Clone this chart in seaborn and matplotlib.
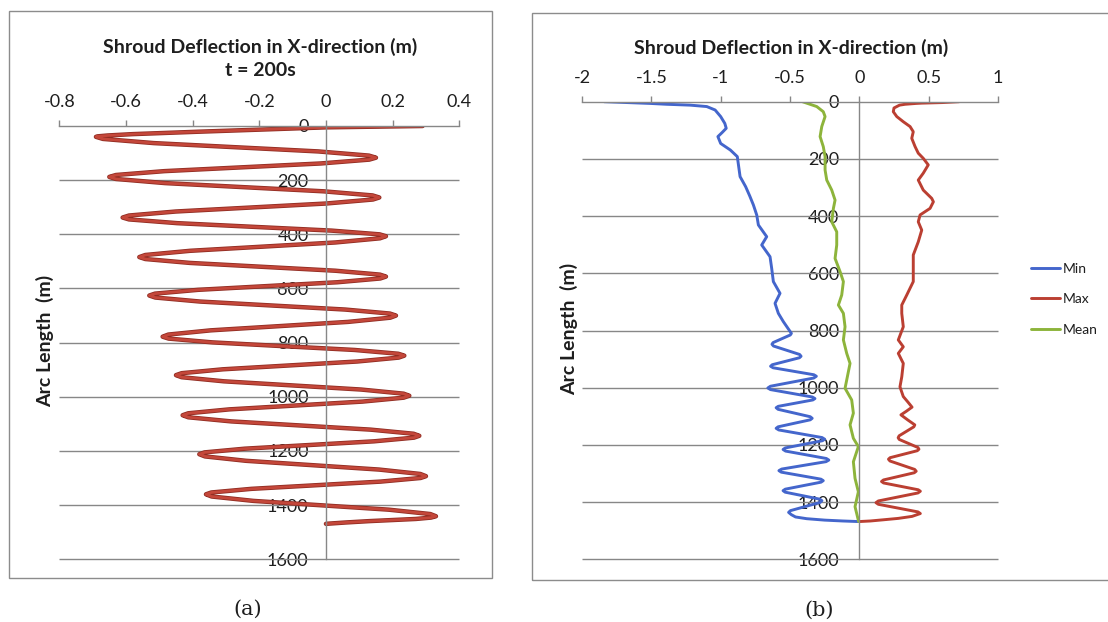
import matplotlib
matplotlib.use("Agg")
import matplotlib.pyplot as plt
import matplotlib.patheffects as pe
from matplotlib.patches import Rectangle
import seaborn as sns

sns.set_theme(style="white")
plt.rcParams["font.family"] = ["Lato", "DejaVu Sans"]
plt.rcParams["axes.unicode_minus"] = False

# ---------------- data ----------------
# (a) instantaneous shroud deflection at t = 200 s
arc_a = [0, 5, 21, 30, 35, 38, 40,
         47.7, 63.1, 78.5, 93.9, 109.3, 117,
         124.1, 138.3, 152.5, 166.7, 180.9, 188,
         195.6, 210.8, 226, 241.2, 256.4, 264,
         271.4, 286.2, 301, 315.8, 330.6, 338,
         344.9, 358.7, 372.5, 386.3, 400.1, 407,
         414.7, 430.1, 445.5, 460.9, 476.3, 484,
         491.2, 505.6, 520, 534.4, 548.8, 556,
         563, 577, 591, 605, 619, 626,
         633.4, 648.2, 663, 677.8, 692.6, 700,
         707.8, 723.4, 739, 754.6, 770.2, 778,
         785, 799, 813, 827, 841, 848,
         855.2, 869.6, 884, 898.4, 912.8, 920,
         927.6, 942.8, 958, 973.2, 988.4, 996,
         1003.2, 1017.6, 1032, 1046.4, 1060.8, 1068,
         1075.6, 1090.8, 1106, 1121.2, 1136.4, 1144,
         1150.8, 1164.4, 1178, 1191.6, 1205.2, 1212,
         1220.1, 1236.3, 1252.5, 1268.7, 1284.9, 1293,
         1299.7, 1313.1, 1326.5, 1339.9, 1353.3, 1360,
         1368.1, 1384.3, 1400.5, 1416.7, 1432.9, 1441,
         1446, 1451, 1455, 1459, 1464, 1469]
defl_a = [0.29, 0.0, -0.38, -0.58, -0.655, -0.683, -0.69,
          -0.669, -0.517, -0.27, -0.023, 0.129, 0.15,
          0.130, -0.015, -0.25, -0.485, -0.630, -0.65,
          -0.630, -0.483, -0.245, -0.007, 0.140, 0.16,
          0.141, 0.001, -0.225, -0.451, -0.591, -0.61,
          -0.591, -0.447, -0.215, 0.017, 0.161, 0.18,
          0.162, 0.028, -0.19, -0.408, -0.542, -0.56,
          -0.542, -0.408, -0.19, 0.028, 0.162, 0.18,
          0.163, 0.034, -0.175, -0.384, -0.513, -0.53,
          -0.512, -0.378, -0.16, 0.058, 0.192, 0.21,
          0.193, 0.066, -0.14, -0.346, -0.473, -0.49,
          -0.472, -0.341, -0.128, 0.086, 0.217, 0.235,
          0.218, 0.094, -0.108, -0.309, -0.433, -0.45,
          -0.433, -0.306, -0.10, 0.106, 0.233, 0.25,
          0.233, 0.110, -0.09, -0.290, -0.413, -0.43,
          -0.413, -0.284, -0.075, 0.134, 0.263, 0.28,
          0.264, 0.144, -0.05, -0.244, -0.364, -0.38,
          -0.363, -0.240, -0.04, 0.160, 0.283, 0.30,
          0.284, 0.164, -0.03, -0.224, -0.344, -0.36,
          -0.343, -0.218, -0.015, 0.188, 0.313, 0.33,
          0.315, 0.27, 0.20, 0.13, 0.06, 0.0]

# (b) envelope of the deflection over the run
arc_min = [0, 6, 9, 12, 17, 29, 52, 76, 93, 108,
           122, 146, 169, 192, 227, 262, 297, 330, 361, 396,
           431, 472, 501, 542, 583, 629, 670, 705, 740, 769,
           810, 815.7, 829, 842.3, 848, 854.3, 869, 883.7, 890,
           895.3, 907.5, 919.7, 925, 930.3, 942.5, 954.7, 960,
           966.2, 980.5, 994.9, 1001, 1006.6, 1019.5, 1032.5, 1038,
           1042.8, 1054, 1065.2, 1070, 1075.6, 1088.5, 1101.5, 1107,
           1112.3, 1124.5, 1136.8, 1142, 1147.7, 1161, 1174.3, 1180,
           1185.4, 1198, 1210.6, 1216, 1221.6, 1234.5, 1247.5, 1253,
           1258.6, 1271.5, 1284.5, 1290, 1295.3, 1307.5, 1319.8, 1325,
           1330.3, 1342.5, 1354.8, 1360, 1365.3, 1377.5, 1389.8, 1395,
           1401.2, 1415.5, 1429.9, 1436,
           1444, 1452, 1458, 1463, 1466, 1468]
defl_min = [-1.84, -1.51, -1.39, -1.22, -1.10, -1.04, -1.00, -0.97, -0.96, -0.99,
            -1.02, -1.00, -0.93, -0.88, -0.87, -0.86, -0.82, -0.79, -0.764, -0.74,
            -0.728, -0.668, -0.704, -0.644, -0.632, -0.62, -0.572, -0.608, -0.584, -0.548,
            -0.49, -0.498, -0.56, -0.622, -0.63, -0.619, -0.525, -0.431, -0.42,
            -0.432, -0.53, -0.628, -0.64, -0.622, -0.475, -0.328, -0.31,
            -0.329, -0.485, -0.641, -0.66, -0.641, -0.49, -0.339, -0.32,
            -0.335, -0.46, -0.585, -0.60, -0.586, -0.47, -0.354, -0.34,
            -0.354, -0.47, -0.586, -0.60, -0.581, -0.425, -0.269, -0.25,
            -0.266, -0.40, -0.534, -0.55, -0.532, -0.385, -0.238, -0.22,
            -0.24, -0.40, -0.56, -0.58, -0.563, -0.42, -0.277, -0.26,
            -0.276, -0.405, -0.534, -0.55, -0.535, -0.41, -0.285, -0.27,
            -0.283, -0.39, -0.497, -0.51,
            -0.49, -0.46, -0.38, -0.25, -0.12, -0.01]

arc_max = [0, 3, 5, 6, 9, 12, 22, 35, 52, 70,
           87, 105, 128, 157, 180, 198, 221, 250, 274, 309,
           338, 350, 373, 396, 420, 449, 490, 536, 583, 629,
           676, 711, 740, 787, 833, 857, 880, 915, 962, 997,
           1031, 1050, 1068, 1082, 1095, 1113, 1130,
           1136.8, 1152.5, 1168.2, 1175, 1181, 1195, 1209, 1215,
           1220.3, 1232.5, 1244.7, 1250, 1256.3, 1271, 1285.7, 1292,
           1297.4, 1310, 1322.6, 1328, 1333.1, 1345, 1356.9, 1362,
           1368, 1382, 1396, 1402, 1407.7, 1421, 1434.3, 1440,
           1450, 1457, 1462, 1466, 1468]
defl_max = [0.72, 0.60, 0.45, 0.41, 0.33, 0.29, 0.25, 0.245, 0.27, 0.317,
            0.366, 0.389, 0.378, 0.402, 0.425, 0.461, 0.497, 0.461, 0.425, 0.461,
            0.522, 0.534, 0.51, 0.438, 0.425, 0.45, 0.425, 0.389, 0.389, 0.389,
            0.342, 0.306, 0.306, 0.317, 0.281, 0.317, 0.281, 0.317, 0.306, 0.293,
            0.317, 0.35, 0.38, 0.34, 0.30, 0.35, 0.40,
            0.393, 0.34, 0.287, 0.28, 0.288, 0.355, 0.422, 0.43,
            0.418, 0.32, 0.222, 0.21, 0.221, 0.31, 0.399, 0.41,
            0.396, 0.285, 0.174, 0.16, 0.175, 0.30, 0.425, 0.44,
            0.423, 0.28, 0.137, 0.12, 0.137, 0.28, 0.423, 0.44,
            0.38, 0.28, 0.17, 0.08, 0.0]

arc_mean = [0, 17, 35, 52, 87, 122, 157, 192, 239, 274,
            309, 344, 373, 420, 455, 501, 548, 594, 629, 676,
            711, 740, 787, 833, 880, 915, 973, 1002, 1043, 1089,
            1130, 1177, 1206, 1259, 1317, 1364, 1416, 1468]
defl_mean = [-0.41, -0.307, -0.26, -0.247, -0.271, -0.283, -0.26, -0.247, -0.247, -0.235,
             -0.199, -0.175, -0.187, -0.199, -0.163, -0.163, -0.175, -0.139, -0.115, -0.127,
             -0.151, -0.115, -0.103, -0.115, -0.091, -0.067, -0.091, -0.103, -0.055, -0.043,
             -0.067, -0.043, -0.007, -0.043, -0.031, -0.007, -0.031, -0.005]

ticks_a = [-0.8, -0.6, -0.4, -0.2, 0, 0.2, 0.4]
tick_labels_a = ["-0.8", "-0.6", "-0.4", "-0.2", "0", "0.2", "0.4"]
ticks_b = [-2, -1.5, -1, -0.5, 0, 0.5, 1]
tick_labels_b = ["-2", "-1.5", "-1", "-0.5", "0", "0.5", "1"]
arc_ticks = [0, 200, 400, 600, 800, 1000, 1200, 1400, 1600]
arc_tick_labels = ["0", "200", "400", "600", "800", "1000", "1200", "1400", "1600"]

title_text = "Shroud Deflection in X-direction (m)"
ylabel_text = "Arc Length  (m)"

# ---------------- layout ----------------
W, H = 1108, 622
GRID = "#878787"
TXT = "#1e1e1e"
RED = "#bb3f32"
BLUE = "#4466cc"
GREEN = "#8db43b"

fig = plt.figure(figsize=(W / 100, H / 100), dpi=100)
fig.patch.set_facecolor("white")


def box(x0, y0, x1, y1):
    """Figure-fraction rectangle from pixel corners (top-left origin)."""
    return [x0 / W, 1 - y1 / H, (x1 - x0) / W, (y1 - y0) / H]


def style(ax, xticks, xlabels, pad_y):
    lo, hi = xticks[0], xticks[-1]
    ax.set_xlim(lo, hi)
    ax.set_ylim(1600, 0)
    ax.xaxis.tick_top()
    ax.set_xticks(xticks)
    ax.set_xticklabels(xlabels)
    ax.set_yticks(arc_ticks)
    ax.set_yticklabels(arc_tick_labels)
    for s in ("right", "bottom"):
        ax.spines[s].set_visible(False)
    ax.spines["top"].set_color(GRID)
    ax.spines["top"].set_linewidth(1.0)
    ax.spines["left"].set_position(("data", 0))
    ax.spines["left"].set_color(GRID)
    ax.spines["left"].set_linewidth(1.0)
    ax.tick_params(axis="x", direction="out", length=4.5, width=1.0,
                   color=GRID, pad=7, labelsize=13, labelcolor=TXT)
    ax.tick_params(axis="y", direction="out", length=4.5, width=1.0,
                   color=GRID, pad=pad_y, labelsize=13, labelcolor=TXT)
    for lab in ax.get_yticklabels():
        lab.set_va("center_baseline")
    ax.hlines(arc_ticks[1:], lo, hi, color=GRID, lw=1.0, zorder=0.8,
              clip_on=False)
    ax.set_xlabel("")
    ax.set_ylabel("")
    ax.patch.set_alpha(0)
    ax.grid(False)


# chart frames
fig.add_artist(Rectangle((8.5 / W, 1 - 578 / H), (491.5 - 8.5) / W, (578 - 11) / H,
                         transform=fig.transFigure, fill=False,
                         edgecolor="#8c8c8c", lw=1.0))
fig.add_artist(Rectangle((532 / W, 1 - 580 / H), (1120 - 532) / W, (580 - 12.7) / H,
                         transform=fig.transFigure, fill=False,
                         edgecolor="#8c8c8c", lw=1.0))

# ---- (a) ----
ax_a = fig.add_axes(box(59.3, 126, 459.3, 559.3))
sns.lineplot(x=defl_a, y=arc_a, sort=False, estimator=None, ax=ax_a,
             color="#c4473a", lw=2.0)
curve = ax_a.lines[-1]
curve.set_solid_joinstyle("round")
curve.set_solid_capstyle("round")
curve.set_path_effects([pe.Stroke(linewidth=3.2, foreground="#902c22"),
                        pe.Normal()])
style(ax_a, ticks_a, tick_labels_a, pad_y=8)

fig.text(260 / W, 1 - 46.5 / H, title_text, ha="center", va="center",
         fontsize=14, fontweight="bold", color=TXT)
fig.text(260 / W, 1 - 70.5 / H, "t = 200s", ha="center", va="center",
         fontsize=14, fontweight="bold", color=TXT)
fig.text(45 / W, 1 - 341 / H, ylabel_text, ha="center", va="center",
         rotation=90, fontsize=14, fontweight="bold", color=TXT)

# ---- (b) ----
ax_b = fig.add_axes(box(582, 101.7, 998, 559.3))
for xs, ys, col, name in ((defl_min, arc_min, BLUE, "Min"),
                          (defl_max, arc_max, RED, "Max"),
                          (defl_mean, arc_mean, GREEN, "Mean")):
    sns.lineplot(x=xs, y=ys, sort=False, estimator=None, ax=ax_b,
                 color=col, lw=2.1, label=name)
    ax_b.lines[-1].set_solid_joinstyle("round")
style(ax_b, ticks_b, tick_labels_b, pad_y=10)

handles, labels = ax_b.get_legend_handles_labels()
ax_b.legend(handles, labels, loc="upper left",
            bbox_to_anchor=(1031 / W, 1 - 263 / H), bbox_transform=fig.transFigure,
            frameon=False, fontsize=10, handlelength=2.1, handletextpad=0.15,
            labelspacing=1.32, borderpad=0, borderaxespad=0,
            labelcolor=TXT)

fig.text(791 / W, 1 - 48 / H, title_text, ha="center", va="center",
         fontsize=14, fontweight="bold", color=TXT)
fig.text(569 / W, 1 - 329 / H, ylabel_text, ha="center", va="center",
         rotation=90, fontsize=14, fontweight="bold", color=TXT)

# sub-figure captions
fig.text(248 / W, 1 - 609 / H, "(a)", ha="center", va="center",
         fontsize=15, family="DejaVu Serif", color=TXT)
fig.text(819 / W, 1 - 610 / H, "(b)", ha="center", va="center",
         fontsize=15, family="DejaVu Serif", color=TXT)

fig.savefig("out.png", dpi=100, facecolor="white")
